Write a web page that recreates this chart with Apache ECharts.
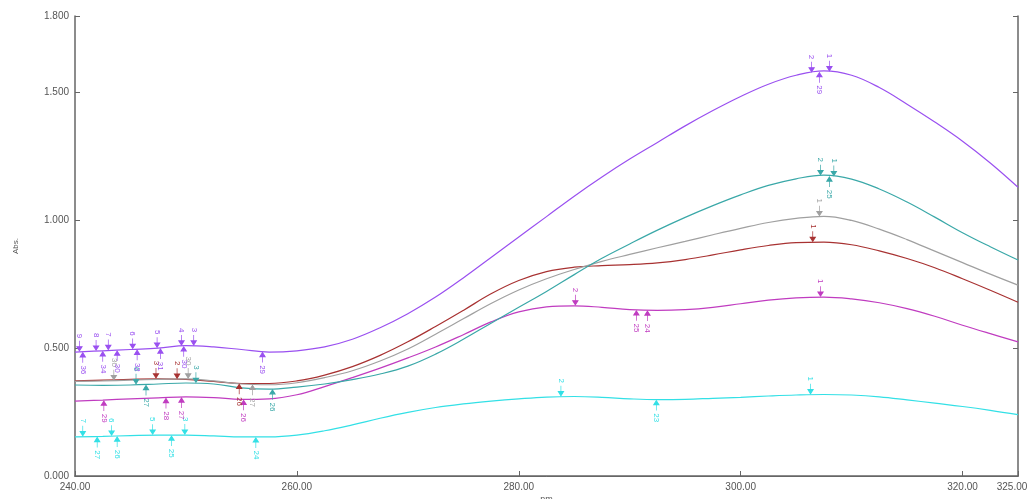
<!DOCTYPE html>
<html>
<head>
<meta charset="utf-8">
<script src="https://cdn.jsdelivr.net/npm/echarts@6/dist/echarts.min.js"></script>
<style>html,body{margin:0;padding:0;background:#fff}#c{width:1031px;height:499px}</style>
</head>
<body>
<div id="c"></div>
<script>
const wavelengths = [240,242.5,245,247.5,250,252.5,255,257.5,260,262.5,265,267.5,270,272.5,275,277.5,280,282.5,285,287.5,290,292.5,295,297.5,300,302.5,305,307.5,310,312.5,315,317.5,320,322.5,325];

const purple  = [0.485,0.49,0.495,0.50,0.51,0.505,0.495,0.485,0.49,0.505,0.535,0.58,0.635,0.70,0.775,0.855,0.935,1.015,1.095,1.17,1.24,1.305,1.37,1.43,1.485,1.533,1.568,1.585,1.568,1.52,1.455,1.385,1.31,1.225,1.13];
const teal    = [0.356,0.355,0.356,0.36,0.364,0.36,0.345,0.34,0.348,0.36,0.377,0.399,0.43,0.477,0.535,0.598,0.66,0.722,0.788,0.852,0.908,0.962,1.012,1.058,1.1,1.137,1.163,1.177,1.162,1.123,1.072,1.013,0.952,0.897,0.845];
const gray    = [0.37,0.372,0.375,0.378,0.38,0.372,0.36,0.357,0.365,0.385,0.412,0.45,0.497,0.555,0.615,0.675,0.728,0.772,0.808,0.84,0.867,0.893,0.918,0.944,0.969,0.992,1.008,1.016,1.0,0.966,0.925,0.88,0.835,0.79,0.747];
const darkred = [0.372,0.375,0.378,0.38,0.378,0.37,0.362,0.362,0.372,0.395,0.428,0.472,0.525,0.585,0.648,0.713,0.765,0.8,0.817,0.823,0.827,0.834,0.847,0.865,0.885,0.902,0.913,0.915,0.905,0.881,0.851,0.815,0.772,0.727,0.68];
const magenta = [0.293,0.297,0.302,0.306,0.31,0.307,0.30,0.302,0.318,0.35,0.385,0.422,0.462,0.505,0.553,0.603,0.642,0.662,0.666,0.66,0.651,0.648,0.651,0.66,0.674,0.688,0.697,0.70,0.693,0.678,0.655,0.625,0.59,0.557,0.525];
const cyan    = [0.153,0.155,0.158,0.16,0.16,0.157,0.153,0.153,0.16,0.177,0.2,0.226,0.249,0.268,0.282,0.293,0.302,0.309,0.311,0.308,0.302,0.299,0.3,0.304,0.308,0.313,0.317,0.319,0.317,0.31,0.298,0.285,0.272,0.257,0.24];

const xTicks = [240,260,280,300,320,325];
const yTicks = [0,0.5,1.0,1.5,1.8];

// peak / valley markers: [wavelength, label]
const purplePeaks   = [[240.4,'9'],[241.9,'8'],[243,'7'],[245.2,'6'],[247.4,'5'],[249.6,'4'],[250.7,'3'],[306.4,'2'],[308,'1']];
const purpleValleys = [[240.7,'36'],[242.5,'34'],[243.8,'30'],[245.6,'32'],[247.7,'31'],[249.8,'30'],[256.9,'29'],[307.1,'29']];
const tealPeaks     = [[245.5,'6'],[250.9,'3'],[307.2,'2'],[308.4,'1']];
const tealValleys   = [[246.4,'27'],[257.8,'26'],[308,'25']];
const grayPeaks     = [[243.5,'30'],[250.2,'30'],[307.1,'1']];
const grayValleys   = [[256.0,'27']];
const redPeaks      = [[247.3,'3'],[249.2,'2'],[306.5,'1']];
const redValleys    = [[254.8,'26']];
const magentaPeaks  = [[285.1,'2'],[307.2,'1']];
const magentaValleys= [[242.6,'29'],[248.2,'28'],[249.6,'27'],[255.2,'26'],[290.6,'25'],[291.6,'24']];
const cyanPeaks     = [[240.7,'7'],[243.3,'6'],[247,'5'],[249.9,'3'],[283.8,'2'],[306.3,'1']];
const cyanValleys   = [[242,'27'],[243.8,'26'],[248.7,'25'],[256.3,'24'],[292.4,'23']];

function interp(ys, x){
  for(let i=0;i<wavelengths.length-1;i++){
    const a=wavelengths[i], b=wavelengths[i+1];
    if(x>=a && x<=b){ const t=(x-a)/(b-a); return ys[i]+(ys[i+1]-ys[i])*t; }
  }
  return ys[ys.length-1];
}
const downArrow='path://M3,0 L3,7 M0,6 L3,10 L6,6 Z';
const upArrow='path://M3,10 L3,3 M0,4 L3,0 L6,4 Z';
function markers(ys, peaks, valleys, color){
  const d=[];
  peaks.forEach(p=>d.push({coord:[p[0],interp(ys,p[0])],symbol:downArrow,symbolSize:[5,10],symbolOffset:[0,-6],
    label:{show:true,formatter:p[1],position:'top',rotate:-90,align:'right',verticalAlign:'middle',distance:2,fontSize:8,color:color,fontFamily:'Liberation Sans'}}));
  valleys.forEach(p=>d.push({coord:[p[0],interp(ys,p[0])],symbol:upArrow,symbolSize:[5,10],symbolOffset:[0,6],
    label:{show:true,formatter:p[1],position:'bottom',rotate:-90,align:'left',verticalAlign:'middle',distance:2,fontSize:8,color:color,fontFamily:'Liberation Sans'}}));
  return {silent:true,animation:false,itemStyle:{color:color,borderColor:color,borderWidth:1},data:d};
}
function line(name, ys, color, peaks, valleys){
  return {name:name,type:'line',data:wavelengths.map((x,i)=>[x,ys[i]]),showSymbol:false,smooth:0.4,
    lineStyle:{color:color,width:1.2},itemStyle:{color:color},animation:false,
    markPoint:markers(ys,peaks,valleys,color)};
}
const axisCol='#666';
const xMax = xTicks[xTicks.length-1];
const chart=echarts.init(document.getElementById('c'));
chart.setOption({
  backgroundColor:'#fff',
  grid:{left:75,right:13,top:16,bottom:23,outerBoundsMode:'none',containLabel:false},
  xAxis:[{type:'value',min:xTicks[0],max:xMax,interval:20,
      name:'nm',nameLocation:'middle',nameGap:19,nameMoveOverlap:false,nameTextStyle:{fontSize:9,color:'#555',fontFamily:'Liberation Sans'},
      axisLine:{lineStyle:{color:axisCol,width:1.5}},axisTick:{inside:true,length:5,lineStyle:{color:axisCol}},
      splitLine:{show:false},
      axisLabel:{formatter:v=>v===xMax?'{r|'+v.toFixed(2)+'}':v.toFixed(2),fontSize:10,color:'#555',margin:6,fontFamily:'Liberation Sans',
        rich:{r:{fontSize:10,color:'#555',fontFamily:'Liberation Sans',padding:[0,12,0,0]}}}},
    {type:'value',position:'top',min:xTicks[0],max:xMax,axisLine:{show:true,lineStyle:{color:axisCol,width:1}},
      axisTick:{show:false},axisLabel:{show:false},splitLine:{show:false}}],
  yAxis:[{type:'value',min:yTicks[0],max:yTicks[yTicks.length-1],interval:0.5,
      name:'Abs.',nameLocation:'middle',nameGap:55,nameRotate:90,nameMoveOverlap:false,nameTextStyle:{fontSize:8,color:'#555',fontFamily:'Liberation Sans'},
      axisLine:{show:true,lineStyle:{color:axisCol,width:1.5}},axisTick:{show:true,inside:true,length:5,lineStyle:{color:axisCol}},
      splitLine:{show:false},
      axisLabel:{formatter:v=>v.toFixed(3),fontSize:10,color:'#555',margin:6,fontFamily:'Liberation Sans'}},
    {type:'value',position:'right',min:yTicks[0],max:yTicks[yTicks.length-1],interval:0.5,
      axisLine:{show:true,lineStyle:{color:axisCol,width:1.5}},axisTick:{show:true,inside:true,length:5,lineStyle:{color:axisCol}},
      axisLabel:{show:false},splitLine:{show:false}}],
  series:[
    line('cyan',cyan,'#33e0e6',cyanPeaks,cyanValleys),
    line('magenta',magenta,'#c03cc0',magentaPeaks,magentaValleys),
    line('darkred',darkred,'#a83232',redPeaks,redValleys),
    line('gray',gray,'#a0a0a0',grayPeaks,grayValleys),
    line('teal',teal,'#3aa8a8',tealPeaks,tealValleys),
    line('purple',purple,'#9a50f0',purplePeaks,purpleValleys)
  ]
});
</script>
</body>
</html>
